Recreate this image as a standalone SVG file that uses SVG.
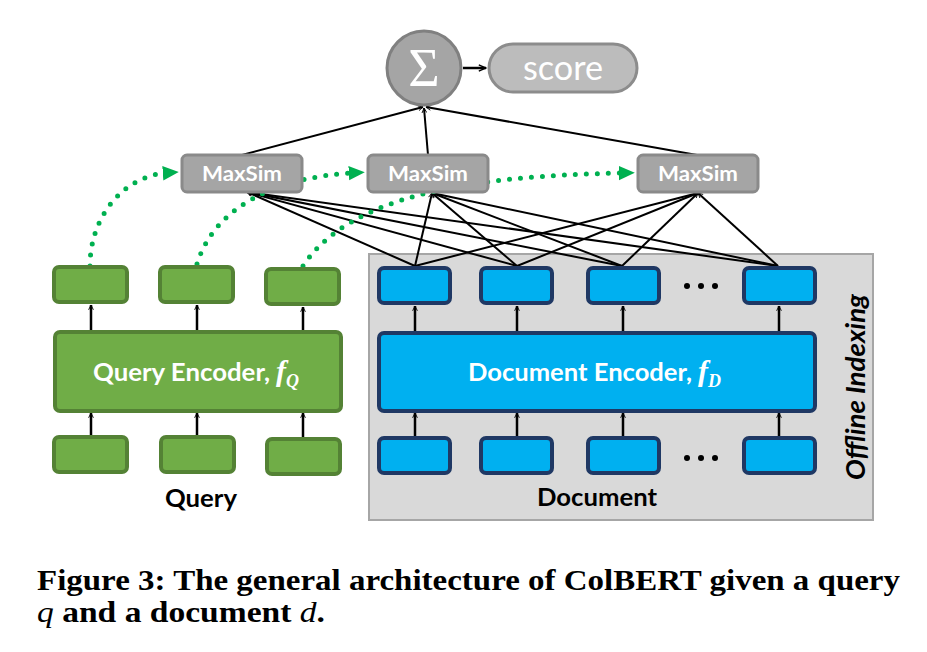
<svg xmlns="http://www.w3.org/2000/svg" width="927" height="652" viewBox="0 0 927 652">
<defs>
<style>
.q{fill:#70ad47;stroke:#548235;stroke-width:4}
.d{fill:#00b0f0;stroke:#1f3864;stroke-width:4}
.ms{fill:#a5a5a5;stroke:#8a8a8a;stroke-width:3}
.ln{stroke:#000;stroke-width:2;fill:none}
.ar{stroke:#000;stroke-width:2.5;fill:none}
.dot{stroke:#00b050;stroke-width:5;stroke-dasharray:0 11;stroke-linecap:round;fill:none}
.wt{fill:#fff;font-family:Lato,"Open Sans",sans-serif;font-weight:bold}
.bk{fill:#000;font-family:Lato,"Open Sans",sans-serif;font-weight:bold}
.fi{font-family:"Liberation Serif",serif;font-style:italic;font-weight:bold}
.cap{fill:#000;font-family:"Liberation Serif",serif;font-weight:bold;font-size:30px}
</style>
<marker id="ah" viewBox="0 0 10 10" refX="9" refY="5" markerWidth="6" markerHeight="6" orient="auto" markerUnits="userSpaceOnUse">
<path d="M1,1 L9,5 L1,9" fill="none" stroke="#000" stroke-width="1.5"/>
</marker>
<marker id="ah2" viewBox="0 0 10 10" refX="9" refY="5" markerWidth="9" markerHeight="9" orient="auto" markerUnits="userSpaceOnUse">
<path d="M1,1.5 L9,5 L1,8.5" fill="none" stroke="#000" stroke-width="1.6"/>
</marker>
<marker id="gh" viewBox="0 0 10 10" refX="2" refY="5" markerWidth="16" markerHeight="16" orient="auto" markerUnits="userSpaceOnUse">
<path d="M0,0.5 L10,5 L0,9.5 Z" fill="#00b050"/>
</marker>
</defs>
<rect width="927" height="652" fill="#fff"/>

<g id="offline">
<rect x="369" y="254" width="504" height="266" fill="#d9d9d9" stroke="#a6a6a6" stroke-width="2"/>
<text class="bk" transform="translate(865,387) rotate(-90)" text-anchor="middle" font-size="26" font-style="italic" textLength="186" lengthAdjust="spacingAndGlyphs">Offline Indexing</text>
</g>

<g id="connectors">
<line class="ar" x1="463" y1="68" x2="486" y2="68" marker-end="url(#ah2)"/>
<line class="ln" x1="242" y1="155" x2="423" y2="107" marker-end="url(#ah)"/>
<line class="ln" x1="428" y1="155" x2="424" y2="108" marker-end="url(#ah)"/>
<line class="ln" x1="697" y1="155" x2="426" y2="107" marker-end="url(#ah)"/>
<line class="ln" x1="415" y1="266" x2="247" y2="192" marker-end="url(#ah)"/>
<line class="ln" x1="517" y1="266" x2="247" y2="192" marker-end="url(#ah)"/>
<line class="ln" x1="622" y1="266" x2="247" y2="192" marker-end="url(#ah)"/>
<line class="ln" x1="778" y1="266" x2="247" y2="192" marker-end="url(#ah)"/>
<line class="ln" x1="415" y1="266" x2="432" y2="193" marker-end="url(#ah)"/>
<line class="ln" x1="517" y1="266" x2="432" y2="193" marker-end="url(#ah)"/>
<line class="ln" x1="622" y1="266" x2="432" y2="193" marker-end="url(#ah)"/>
<line class="ln" x1="778" y1="266" x2="432" y2="193" marker-end="url(#ah)"/>
<line class="ln" x1="415" y1="266" x2="698" y2="193" marker-end="url(#ah)"/>
<line class="ln" x1="517" y1="266" x2="698" y2="193" marker-end="url(#ah)"/>
<line class="ln" x1="622" y1="266" x2="698" y2="193" marker-end="url(#ah)"/>
<line class="ln" x1="778" y1="266" x2="698" y2="193" marker-end="url(#ah)"/>
<line class="ar" x1="91" y1="332" x2="91" y2="305" marker-end="url(#ah)"/>
<line class="ar" x1="197" y1="332" x2="197" y2="305" marker-end="url(#ah)"/>
<line class="ar" x1="303" y1="332" x2="303" y2="307" marker-end="url(#ah)"/>
<line class="ar" x1="91" y1="436" x2="91" y2="413" marker-end="url(#ah)"/>
<line class="ar" x1="197" y1="436" x2="197" y2="413" marker-end="url(#ah)"/>
<line class="ar" x1="303" y1="438" x2="303" y2="413" marker-end="url(#ah)"/>
<line class="ar" x1="415" y1="332" x2="415" y2="306" marker-end="url(#ah)"/>
<line class="ar" x1="517" y1="332" x2="517" y2="306" marker-end="url(#ah)"/>
<line class="ar" x1="623" y1="332" x2="623" y2="306" marker-end="url(#ah)"/>
<line class="ar" x1="779" y1="332" x2="779" y2="306" marker-end="url(#ah)"/>
<line class="ar" x1="415" y1="437" x2="415" y2="413" marker-end="url(#ah)"/>
<line class="ar" x1="517" y1="437" x2="517" y2="413" marker-end="url(#ah)"/>
<line class="ar" x1="623" y1="437" x2="623" y2="413" marker-end="url(#ah)"/>
<line class="ar" x1="779" y1="437" x2="779" y2="413" marker-end="url(#ah)"/>
<path class="dot" d="M90,266 C90,215 125,176 166,173" marker-end="url(#gh)"/>
<path class="dot" d="M197,264 C215,205 280,177 352,173" marker-end="url(#gh)"/>
<path class="dot" d="M303,266 C350,195 470,176 622,173" marker-end="url(#gh)"/>
</g>

<g id="sum">
<circle cx="424" cy="68" r="37" fill="#a5a5a5" stroke="#808080" stroke-width="3"/>
<text x="424" y="86" text-anchor="middle" fill="#fff" font-family="'Liberation Serif',serif" font-size="54">Σ</text>
</g>
<g id="score">
<rect x="489" y="44" width="148" height="48" rx="24" fill="#bcbcbc" stroke="#8c8c8c" stroke-width="3"/>
<text x="563" y="80" text-anchor="middle" fill="#fff" font-family="Lato,'Open Sans',sans-serif" font-size="34" textLength="80" lengthAdjust="spacingAndGlyphs">score</text>
</g>

<g id="maxsim1"><rect class="ms" x="182" y="155" width="120" height="37" rx="5"/><text class="wt" x="242" y="181" text-anchor="middle" font-size="21" textLength="80" lengthAdjust="spacingAndGlyphs">MaxSim</text></g>
<g id="maxsim2"><rect class="ms" x="368" y="155" width="120" height="37" rx="5"/><text class="wt" x="428" y="181" text-anchor="middle" font-size="21" textLength="80" lengthAdjust="spacingAndGlyphs">MaxSim</text></g>
<g id="maxsim3"><rect class="ms" x="638" y="155" width="120" height="37" rx="5"/><text class="wt" x="698" y="181" text-anchor="middle" font-size="21" textLength="80" lengthAdjust="spacingAndGlyphs">MaxSim</text></g>

<g id="qout1"><rect class="q" x="54" y="267" width="73" height="35" rx="5"/></g>
<g id="qout2"><rect class="q" x="160" y="267" width="73" height="35" rx="5"/></g>
<g id="qout3"><rect class="q" x="266" y="269" width="73" height="35" rx="5"/></g>
<g id="query-encoder">
<rect class="q" x="55" y="332" width="286" height="79" rx="5"/>
<text class="wt" x="93" y="381" font-size="25"><tspan textLength="177" lengthAdjust="spacingAndGlyphs">Query Encoder,</tspan><tspan class="fi" dx="6" font-size="30">f</tspan><tspan class="fi" font-size="18" dy="6">Q</tspan></text>
</g>
<g id="qin1"><rect class="q" x="54" y="437" width="73" height="35" rx="5"/></g>
<g id="qin2"><rect class="q" x="161" y="437" width="73" height="35" rx="5"/></g>
<g id="qin3"><rect class="q" x="267" y="439" width="73" height="35" rx="5"/></g>
<g id="query-label"><text class="bk" x="201" y="507" text-anchor="middle" font-size="24" textLength="72" lengthAdjust="spacingAndGlyphs">Query</text></g>

<g id="dout1"><rect class="d" x="379" y="268" width="71" height="35" rx="5"/></g>
<g id="dout2"><rect class="d" x="481" y="268" width="71" height="35" rx="5"/></g>
<g id="dout3"><rect class="d" x="588" y="268" width="71" height="35" rx="5"/></g>
<g id="dout4"><rect class="d" x="744" y="268" width="71" height="35" rx="5"/></g>
<g id="dots-top" fill="#000"><circle cx="687" cy="286" r="3"/><circle cx="701" cy="286" r="3"/><circle cx="715" cy="286" r="3"/></g>
<g id="document-encoder">
<rect class="d" x="379" y="333" width="436" height="78" rx="5"/>
<text class="wt" x="468" y="381" font-size="25"><tspan textLength="224" lengthAdjust="spacingAndGlyphs">Document Encoder,</tspan><tspan class="fi" dx="6" font-size="30">f</tspan><tspan class="fi" font-size="18" dy="6">D</tspan></text>
</g>
<g id="din1"><rect class="d" x="379" y="438" width="71" height="35" rx="5"/></g>
<g id="din2"><rect class="d" x="481" y="438" width="71" height="35" rx="5"/></g>
<g id="din3"><rect class="d" x="588" y="438" width="71" height="35" rx="5"/></g>
<g id="din4"><rect class="d" x="744" y="438" width="71" height="35" rx="5"/></g>
<g id="dots-bottom" fill="#000"><circle cx="687" cy="458" r="3"/><circle cx="701" cy="458" r="3"/><circle cx="715" cy="458" r="3"/></g>
<g id="document-label"><text class="bk" x="597" y="506" text-anchor="middle" font-size="24" textLength="120" lengthAdjust="spacingAndGlyphs">Document</text></g>

<g id="caption">
<text class="cap" x="37" y="590" textLength="863" lengthAdjust="spacingAndGlyphs">Figure 3: The general architecture of ColBERT given a query</text>
<text class="cap" x="37" y="622" textLength="288" lengthAdjust="spacingAndGlyphs"><tspan font-style="italic" font-weight="normal">q</tspan> and a document <tspan font-style="italic" font-weight="normal">d</tspan>.</text>
</g>
</svg>
